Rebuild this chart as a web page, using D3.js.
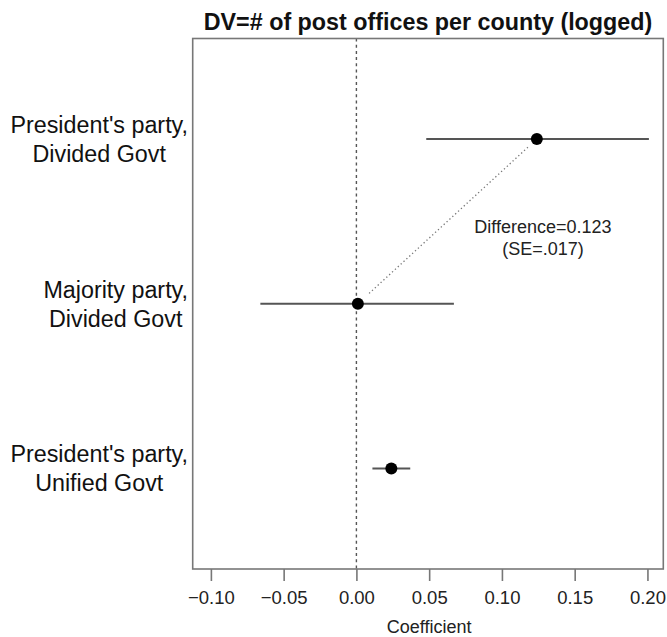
<!DOCTYPE html>
<html><head><meta charset="utf-8">
<script src="https://cdn.jsdelivr.net/npm/d3@7"></script>
<style>body{margin:0;background:#fff}svg{display:block}text{font-family:"Liberation Sans",Arial,Helvetica,sans-serif}</style>
</head><body><svg id="c" width="667" height="637"></svg>
<script>
const categories = [["President's party,", "Divided Govt"], ["Majority party,", "Divided Govt"], ["President's party,", "Unified Govt"]];
const estimates = [0.124, 0.001, 0.024];
const lower = [0.048, -0.066, 0.011];
const upper = [0.201, 0.067, 0.037];
const xTicks = [-0.10, -0.05, 0.00, 0.05, 0.10, 0.15, 0.20];
const titleText = "DV=# of post offices per county (logged)";
const xLabel = "Coefficient";
const noteLines = ["Difference=0.123", "(SE=.017)"];

const svg = d3.select("#c");
const L = 192.7, R = 663.3, T = 38.5, B = 569;
const x = d3.scaleLinear().domain([-0.1125, 0.2109]).range([L, R]);
const y = d3.scaleLinear().domain([0.39, 3.61]).range([T, B]);

// zero reference line
svg.append("line").attr("x1", x(0)).attr("x2", x(0)).attr("y1", T).attr("y2", B)
  .attr("stroke", "#555").attr("stroke-width", 1.4).attr("stroke-dasharray", "3,3.2");

// CI lines
categories.forEach((c, i) => {
  svg.append("line").attr("x1", x(lower[i])).attr("x2", x(upper[i]))
    .attr("y1", y(i + 1)).attr("y2", y(i + 1))
    .attr("stroke", "#555").attr("stroke-width", 1.8);
});

// dotted difference connector
const t0 = 0.05, t1 = 0.94;
const xa = x(estimates[0]), ya = y(1), xb = x(estimates[1]), yb = y(2);
svg.append("line")
  .attr("x1", xa + (xb - xa) * t0).attr("y1", ya + (yb - ya) * t0)
  .attr("x2", xa + (xb - xa) * t1).attr("y2", ya + (yb - ya) * t1)
  .attr("stroke", "#777").attr("stroke-width", 1.3).attr("stroke-dasharray", "1.3,2.6");

// points
categories.forEach((c, i) => {
  svg.append("circle").attr("cx", x(estimates[i])).attr("cy", y(i + 1)).attr("r", 6).attr("fill", "#000");
});

// box
svg.append("rect").attr("x", L).attr("y", T).attr("width", R - L).attr("height", B - T)
  .attr("fill", "none").attr("stroke", "#777").attr("stroke-width", 1.6);

// x axis
const ax = svg.append("g").attr("transform", `translate(0,${B})`)
  .call(d3.axisBottom(x).tickValues(xTicks).tickSize(12).tickSizeOuter(0)
    .tickFormat(d => d3.format(".2f")(d).replace("-", "\u2212")));
ax.select(".domain").remove();
ax.selectAll(".tick line").attr("stroke", "#777").attr("stroke-width", 1.6);
ax.selectAll(".tick text").attr("font-size", 18.5).attr("fill", "#222").attr("y", 22).attr("dy", "0.71em");

svg.append("text").attr("x", x(0.05)).attr("y", 633).attr("text-anchor", "middle")
  .attr("font-size", 18).attr("fill", "#222").text(xLabel);

// title
svg.append("text").attr("x", (L + R) / 2).attr("y", 30).attr("text-anchor", "middle")
  .attr("font-size", 23.3).attr("font-weight", "bold").attr("fill", "#111").text(titleText);

// row labels
categories.forEach((c, i) => {
  const g = svg.append("g");
  const ts = c.map((s, j) => g.append("text").attr("font-size", 23.3).attr("fill", "#111")
    .attr("text-anchor", "middle").attr("y", y(i + 1) + (j === 0 ? -14.5 : 14.5)).attr("dy", "0.36em").text(s));
  const w = d3.max(ts.map(t => t.node().getComputedTextLength()));
  ts.forEach(t => t.attr("x", 188 - w / 2));
});

// note
noteLines.forEach((s, j) => {
  svg.append("text").attr("x", 543).attr("y", 227 + j * 21.5).attr("dy", "0.36em")
    .attr("text-anchor", "middle").attr("font-size", 18).attr("fill", "#222").text(s);
});
</script></body></html>
